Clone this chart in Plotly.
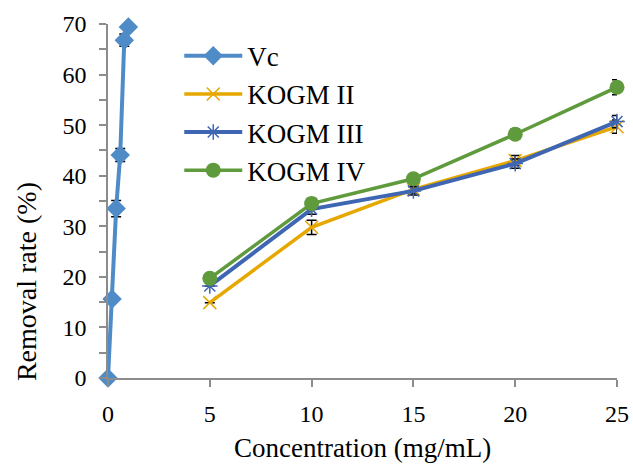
import plotly.graph_objects as go

# Data
vc_x = [0, 0.2, 0.4, 0.6, 0.8, 1.0]
vc_y = [0, 15.6, 33.5, 44.1, 66.8, 69.4]
vc_err = [0, 0, 1.6, 1.3, 1.2, 0]

conc = [5, 10, 15, 20, 25]
kogm2 = [14.9, 29.8, 37.3, 43.0, 49.7]
kogm2_err = [0, 1.4, 0.8, 1.0, 1.3]
kogm3 = [18.2, 33.4, 37.0, 42.4, 50.7]
kogm3_err = [0, 1.0, 0.8, 0.9, 1.2]
kogm4 = [19.7, 34.5, 39.4, 48.2, 57.5]
kogm4_err = [0, 1.0, 0.6, 1.0, 1.5]

names = ["Vc", "KOGM II", "KOGM III", "KOGM IV"]
colors = ["#4f8bc6", "#e6a800", "#3f66b2", "#5f9b3d"]
x_ticks = [0, 5, 10, 15, 20, 25]

font_family = "Liberation Serif"

fig = go.Figure()

def err(vals):
    return dict(type="data", array=vals, visible=True, color="black",
                thickness=1.5, width=5)

fig.add_trace(go.Scatter(
    x=vc_x, y=vc_y, name=names[0], mode="lines+markers",
    line=dict(color=colors[0], width=4),
    marker=dict(symbol="diamond", size=15, color=colors[0]),
    error_y=err(vc_err), cliponaxis=False))
fig.add_trace(go.Scatter(
    x=conc, y=kogm2, name=names[1], mode="lines+markers",
    line=dict(color=colors[1], width=3.5),
    marker=dict(symbol="x-thin", size=13, color=colors[1],
                line=dict(color=colors[1], width=1.5)),
    error_y=err(kogm2_err), cliponaxis=False))
fig.add_trace(go.Scatter(
    x=conc, y=kogm3, name=names[2], mode="lines+markers",
    line=dict(color=colors[2], width=4),
    marker=dict(symbol="asterisk-open", size=13, color=colors[2],
                line=dict(color=colors[2], width=1.5)),
    error_y=err(kogm3_err), cliponaxis=False))
fig.add_trace(go.Scatter(
    x=conc, y=kogm4, name=names[3], mode="lines+markers",
    line=dict(color=colors[3], width=3.5),
    marker=dict(symbol="circle", size=15, color=colors[3]),
    error_y=err(kogm4_err), cliponaxis=False))

fig.update_layout(
    width=633, height=466,
    margin=dict(l=108, r=16, t=24, b=88),
    paper_bgcolor="white", plot_bgcolor="white",
    font=dict(family=font_family, size=24, color="black"),
    showlegend=True,
    legend=dict(x=0.14, y=0.978, xanchor="left", yanchor="top",
                itemwidth=58,
                font=dict(size=27, family=font_family, color="black"),
                bgcolor="rgba(0,0,0,0)", tracegroupgap=0),
    xaxis=dict(range=[0, 25], tickmode="array", tickvals=x_ticks,
               automargin=False,
               showline=True, linecolor="#8c8c8c", linewidth=1.5,
               ticks="outside", tickcolor="#8c8c8c", ticklen=7, tickwidth=1.5,
               ticklabelstandoff=6,
               showgrid=False, zeroline=False,
               tickfont=dict(size=24, family=font_family, color="black")),
    yaxis=dict(range=[0, 70], dtick=10, tick0=0,
               automargin=False,
               showline=True, linecolor="#8c8c8c", linewidth=1.5,
               ticks="outside", tickcolor="#8c8c8c", ticklen=7, tickwidth=1.5,
               ticklabelstandoff=8,
               minor=dict(dtick=5, ticks="outside", ticklen=7, tickcolor="#8c8c8c",
                          tickwidth=1.5, showgrid=False),
               showgrid=False, zeroline=False,
               tickfont=dict(size=24, family=font_family, color="black")),
    annotations=[
        dict(text="Concentration (mg/mL)", xref="paper", yref="paper",
             x=0.5, y=0, yshift=-70, xanchor="center", yanchor="middle",
             showarrow=False, font=dict(size=27, family=font_family, color="black")),
        dict(text="Removal rate (%)", xref="paper", yref="paper",
             x=0, xshift=-82, y=0.271, xanchor="center", yanchor="middle",
             textangle=-90, showarrow=False,
             font=dict(size=28, family=font_family, color="black")),
    ],
)

fig.write_html("out.html",
               config={"displayModeBar": False},
               post_script="document.body.style.margin='0';document.body.style.overflow='hidden';")
